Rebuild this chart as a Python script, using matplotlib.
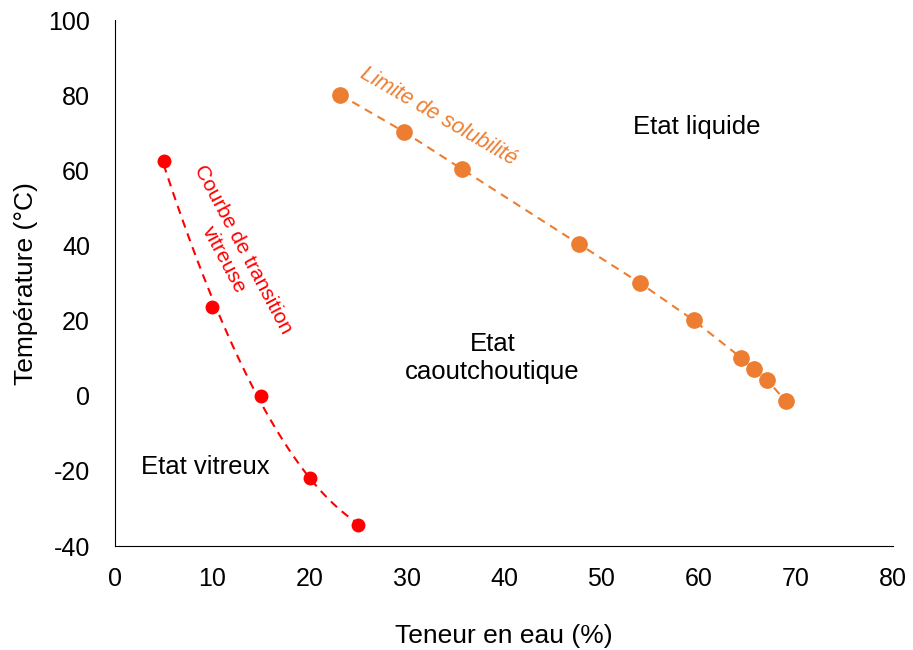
import numpy as np
from matplotlib import pyplot as plt

plt.rcParams['font.family'] = ['Liberation Sans', 'DejaVu Sans']
plt.rcParams['axes.unicode_minus'] = False

# courbe de transition vitreuse
x_vit = [5, 10, 15, 20, 25]
y_vit = [62.5, 23.5, 0, -21.8, -34.3]

# limite de solubilite
x_sol = [23.1, 29.7, 35.7, 47.7, 54.0, 59.5, 64.4, 65.7, 67.1, 69.0]
y_sol = [80.2, 70.3, 60.3, 40.4, 30.0, 20.1, 10.1, 7.2, 4.1, -1.5]

red = '#ff0000'
orange = '#ed7d31'

fig = plt.figure(figsize=(9.13, 6.5), dpi=100)
ax = fig.add_axes([0.126, 0.16, 0.852, 0.809])

# trend line (polynome ordre 2) for the red series
p = np.polyfit(x_vit, y_vit, 2)
xs = np.linspace(x_vit[0], x_vit[-1], 100)
ax.plot(xs, np.polyval(p, xs), '--', color=red, lw=1.5, dashes=(4, 3))
ax.plot(x_vit, y_vit, 'o', color=red, ms=9)

ax.plot(x_sol, y_sol, '--', color=orange, lw=1.5, dashes=(4, 3))
ax.plot(x_sol, y_sol, 'o', color=orange, ms=11)

ax.set_xlim(0, 80)
ax.set_ylim(-40, 100)
ax.set_xticks(range(0, 81, 10))
ax.set_yticks(range(-40, 101, 20))
ax.tick_params(length=0, labelsize=18)
ax.tick_params(axis='y', pad=18)
ax.tick_params(axis='x', pad=15)
for s in ['top', 'right']:
    ax.spines[s].set_visible(False)
ax.spines['left'].set_color('black')
ax.spines['bottom'].set_color('black')

ax.set_xlabel('Teneur en eau (%)', fontsize=19, labelpad=24)
ax.set_ylabel('Température (°C)', fontsize=19, labelpad=7)

ax.text(12.2, 37.5, 'Courbe de transition\nvitreuse', color=red, fontsize=15,
        rotation=-62, ha='center', va='center', rotation_mode='anchor')
ax.text(33.3, 74.3, 'Limite de solubilité', color=orange, fontsize=15.5,
        style='italic', rotation=-30, ha='center', va='center', rotation_mode='anchor')
ax.text(59.8, 71.6, 'Etat liquide', fontsize=18.5, ha='center', va='center')
ax.text(38.8, 10.1, 'Etat\ncaoutchoutique', fontsize=18.5, ha='center', va='center',
        linespacing=1.2)
ax.text(9.3, -18.9, 'Etat vitreux', fontsize=18.5, ha='center', va='center')

plt.savefig('out.png', dpi=100)
